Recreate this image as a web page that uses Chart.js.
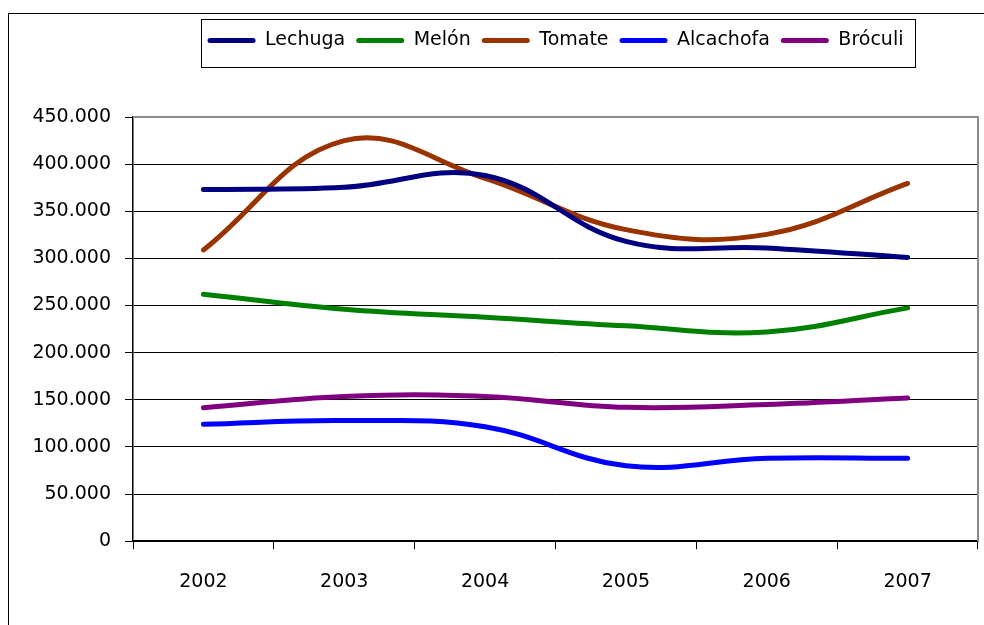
<!DOCTYPE html>
<html>
<head>
<meta charset="utf-8">
<script src="https://cdn.jsdelivr.net/npm/chart.js@4.4.1/dist/chart.umd.min.js"></script>
<style>
html,body{margin:0;padding:0;background:#fff;}
#wrap{width:984px;height:625px;position:relative;}
</style>
</head>
<body>
<div id="wrap"><canvas id="c" width="984" height="625"></canvas></div>
<script>
const years = ["2002", "2003", "2004", "2005", "2006", "2007"];
const seriesNames = ["Lechuga", "Melón", "Tomate", "Alcachofa", "Bróculi"];
const lechuga   = [373000, 375500, 388000, 318000, 311000, 301000];
const melon     = [262000, 246000, 237500, 228500, 222000, 247500];
const tomate    = [309000, 425000, 385000, 330500, 325500, 379500];
const alcachofa = [124000, 128000, 121500, 80000, 88000, 88000];
const broculi   = [141500, 153500, 153500, 142000, 145000, 152000];
const colors = ["#000080", "#008000", "#993300", "#0000FF", "#800080"];
const yMax = 450000, yStep = 50000;

const allValues = [lechuga, melon, tomate, alcachofa, broculi];
const FONT = "'DejaVu Sans', Verdana, sans-serif";

function fmt(v){ return String(v).replace(/\B(?=(\d{3})+(?!\d))/g, '.'); }

const framePlugin = {
  id: 'frame',
  beforeUpdate(chart){
    const lg = chart.legend;
    if (lg && !lg._patched) {
      lg._patched = true;
      const origFit = lg.fit;
      lg.fit = function(){ origFit.call(this); this.height += 57; };
    }
  },
  beforeDraw(chart){
    const ctx = chart.ctx;
    ctx.save();
    ctx.fillStyle = '#fff';
    ctx.fillRect(0,0,chart.width,chart.height);
    ctx.strokeStyle = '#000';
    ctx.lineWidth = 1;
    ctx.strokeRect(8.5, 13.5, 2000, 2000);
    ctx.restore();
  },
  beforeDatasetsDraw(chart){
    const a = chart.chartArea, ctx = chart.ctx;
    ctx.save();
    ctx.strokeStyle = '#8c8c8c';
    ctx.lineWidth = 2;
    ctx.beginPath();
    ctx.moveTo(a.left, a.top);
    ctx.lineTo(a.right, a.top);
    ctx.lineTo(a.right, a.bottom);
    ctx.stroke();
    ctx.restore();
  },
  afterDraw(chart){
    const lg = chart.legend;
    if (!lg || !lg.legendHitBoxes || !lg.legendHitBoxes.length) return;
    const hb = lg.legendHitBoxes;
    let l = Infinity, r = -Infinity, t = Infinity, b = -Infinity;
    hb.forEach(h => { l = Math.min(l, h.left); r = Math.max(r, h.left + h.width); t = Math.min(t, h.top); b = Math.max(b, h.top + h.height); });
    const ctx = chart.ctx;
    ctx.save();
    ctx.strokeStyle = '#000';
    ctx.lineWidth = 1;
    const cy = (t + b) / 2;
    ctx.strokeRect(Math.round(l - 7) + 0.5, Math.round(cy - 22) + 0.5, Math.round(r - l + 18), 48);
    ctx.restore();
  }
};

new Chart(document.getElementById('c'), {
  type: 'line',
  data: {
    labels: years,
    datasets: seriesNames.map((n, i) => ({
      label: n,
      data: allValues[i],
      borderColor: colors[i],
      backgroundColor: colors[i],
      borderWidth: 5,
      borderCapStyle: 'round',
      borderJoinStyle: 'round',
      pointRadius: 0,
      tension: 0.4,
      fill: false
    }))
  },
  options: {
    responsive: false,
    animation: false,
    devicePixelRatio: 1,
    layout: { padding: { left: 8, right: 6, top: 20, bottom: 11 } },
    plugins: {
      tooltip: { enabled: false },
      legend: {
        display: true,
        position: 'top',
        fullSize: false,
        labels: {
          color: '#000',
          font: { family: FONT, size: 19 },
          boxWidth: 48,
          boxHeight: 5,
          useBorderRadius: true,
          borderRadius: 2.5,
          padding: 11,
          generateLabels(chart){
            return chart.data.datasets.map((d, i) => ({
              text: d.label, fillStyle: d.borderColor, strokeStyle: d.borderColor,
              lineWidth: 0, hidden: false, datasetIndex: i, fontColor: '#000',
              borderRadius: 2.5
            }));
          }
        }
      }
    },
    scales: {
      x: {
        offset: true,
        grid: { display: true, drawOnChartArea: false, offset: true, tickLength: 8, tickColor: '#000', tickWidth: 1 },
        border: { display: true, color: '#000', width: 1.5 },
        ticks: { color: '#000', font: { family: FONT, size: 19 }, padding: 21, maxRotation: 0 }
      },
      y: {
        min: 0, max: yMax,
        afterFit(s){ s.width = 125; },
        ticks: { stepSize: yStep, color: '#000', font: { family: FONT, size: 19 }, padding: 14, callback: v => fmt(v) },
        grid: { color: '#000', lineWidth: 1, tickLength: 8, tickColor: '#000' },
        border: { display: true, color: '#000', width: 1.5 }
      }
    }
  },
  plugins: [framePlugin]
});
</script>
</body>
</html>
